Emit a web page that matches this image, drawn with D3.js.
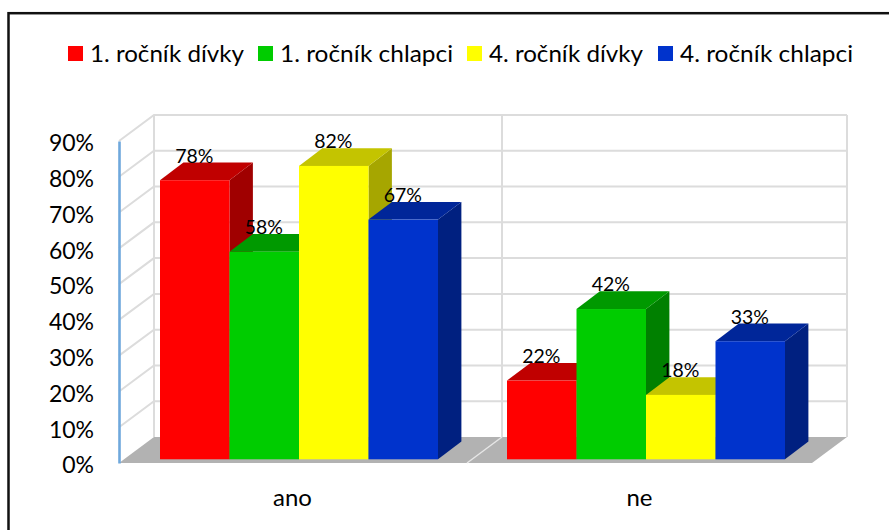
<!DOCTYPE html>
<html><head><meta charset="utf-8">
<script src="https://cdn.jsdelivr.net/npm/d3@7/dist/d3.min.js"></script>
<style>html,body{margin:0;padding:0;background:#fff}svg{display:block}text{font-family:Lato,sans-serif;fill:#000}</style>
</head><body><svg id="c" width="889" height="530"></svg>
<script>
const categories = ["ano","ne"];
const seriesNames = ["1. ročník dívky","1. ročník chlapci","4. ročník dívky","4. ročník chlapci"];
const girls1 = [78,22];
const boys1 = [58,42];
const girls4 = [82,18];
const boys4 = [67,33];
const tickValues = [0,10,20,30,40,50,60,70,80,90];
const frontColors = ["#ff0000","#00cc00","#ffff00","#0033cc"];
const topColors = ["#c00000","#009900","#c4c400","#002699"];
const sideColors = ["#a00000","#008000","#a6a600","#002080"];
const legendX = [68,258,467,658];
const legendW = [154,173,154,173];
const seriesValues = [girls1,boys1,girls4,boys4];

const svg = d3.select("#c");
const W = {x0:119,x1:813,right:812,base:463,top:141,dx:35,dy:26};
const y = d3.scaleLinear().domain([0,90]).range([W.base,W.top]);
const x0 = d3.scaleBand().domain(categories).range([W.x0,W.x1]);
const x1 = d3.scaleBand().domain(d3.range(4)).range([41,319]);
const barBase = 3.7, depthX = 23.4, depthY = 17.7;

svg.append("rect").attr("x",8.5).attr("y",13.2).attr("width",900).attr("height",540)
  .attr("fill","#fff").attr("stroke","#111").attr("stroke-width",2.5);

// walls
const wall = svg.append("g").attr("fill","none").attr("stroke","#dcdcdc").attr("stroke-width",2);
tickValues.forEach(t=>{
  if(t===0) return;
  wall.append("path").attr("d",d3.line()([[W.x0,y(t)],[W.x0+W.dx,y(t)-W.dy],[W.right+W.dx,y(t)-W.dy]]));
});
[W.x0+W.dx, x0("ne")+W.dx+1, W.right+W.dx].forEach(px=>{
  wall.append("line").attr("x1",px).attr("x2",px).attr("y1",y(90)-W.dy).attr("y2",y(0)-W.dy);
});
// floor
svg.append("polygon").attr("fill","#b2b2b2")
  .attr("points",[[W.x0,W.base],[W.right,W.base],[W.right+W.dx,W.base-W.dy],[W.x0+W.dx,W.base-W.dy]].join(" "));
svg.append("line").attr("x1",x0("ne")+1).attr("y1",W.base).attr("x2",x0("ne")+W.dx+1).attr("y2",W.base-W.dy)
  .attr("stroke","#e6e6e6").attr("stroke-width",1.5);

// bars
categories.forEach((c,ci)=>{
  const g = svg.append("g");
  seriesValues.forEach((vals,si)=>{
    const l = x0(c)+x1(si), r = l+x1.bandwidth(), b = y(0)-barBase, t = y(vals[ci])-barBase;
    g.append("polygon").attr("fill",sideColors[si])
      .attr("points",[[r,t],[r+depthX,t-depthY],[r+depthX,b-depthY],[r,b]].join(" "));
    g.append("polygon").attr("fill",topColors[si])
      .attr("points",[[l,t],[l+depthX,t-depthY],[r+depthX,t-depthY],[r,t]].join(" "));
    g.append("rect").attr("x",l).attr("y",t).attr("width",x1.bandwidth()).attr("height",b-t).attr("fill",frontColors[si]);
  });
});
// data labels
categories.forEach((c,ci)=>{
  seriesValues.forEach((vals,si)=>{
    svg.append("text").attr("x",x0(c)+x1(si)+x1.bandwidth()/2-0.5).attr("y",y(vals[ci])-barBase-depthY)
      .attr("text-anchor","middle").attr("font-size",19.5).text(vals[ci]+"%");
  });
});

// axes
const yAxis = d3.axisLeft(y).tickValues(tickValues).tickSize(0).tickPadding(25).tickFormat(d=>d+"%");
const ya = svg.append("g").attr("transform",`translate(${W.x0},2.5)`).call(yAxis);
ya.select(".domain").attr("stroke","#6fa8dc").attr("stroke-width",2.6).attr("transform","translate(0,-2.5)");
ya.selectAll("text").attr("font-size",23).attr("fill","#000").style("font-family","Lato,sans-serif");
const xAxis = d3.axisBottom(x0).tickSize(0).tickPadding(26);
const xa = svg.append("g").attr("transform",`translate(0,${W.base})`).call(xAxis);
xa.select(".domain").remove();
xa.selectAll("text").attr("font-size",24).attr("fill","#000").style("font-family","Lato,sans-serif");

// legend
seriesNames.forEach((n,i)=>{
  svg.append("rect").attr("x",legendX[i]).attr("y",46).attr("width",15).attr("height",15).attr("fill",frontColors[i]);
  svg.append("text").attr("x",legendX[i]+22).attr("y",61.5).attr("font-size",22.5)
    .attr("textLength",legendW[i]).attr("lengthAdjust","spacingAndGlyphs").text(n);
});
</script></body></html>
